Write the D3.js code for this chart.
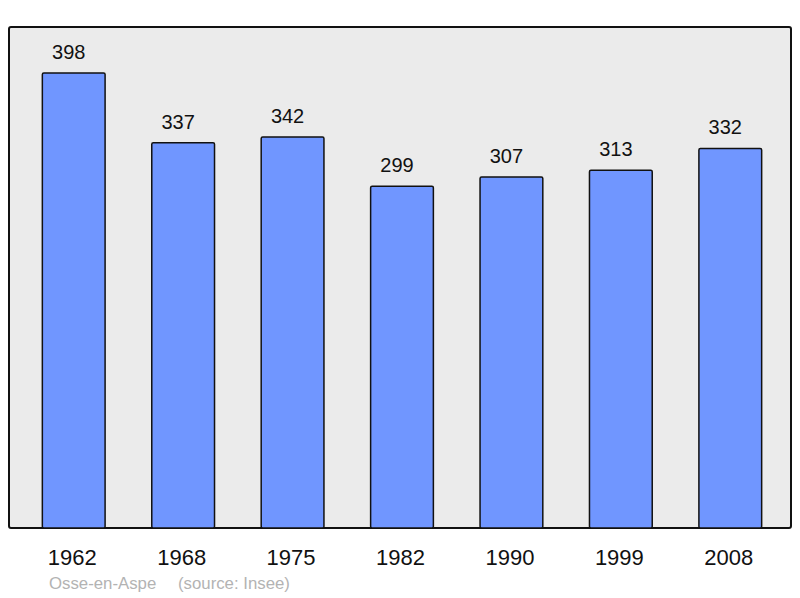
<!DOCTYPE html>
<html><head><meta charset="utf-8">
<script src="https://cdn.jsdelivr.net/npm/d3@7"></script>
<style>body{margin:0;background:#fff}svg{display:block}</style>
</head><body>
<script>
const years = ["1962","1968","1975","1982","1990","1999","2008"];
const population = [398,337,342,299,307,313,332];
const communeLabel = "Osse-en-Aspe";
const sourceLabel = "(source: Insee)";

const W = 800, H = 598;
const svg = d3.select("body").append("svg").attr("width", W).attr("height", H);
const font = "'Liberation Sans', Arial, sans-serif";

const panel = {x: 9, y: 27, w: 782, h: 501};
svg.append("rect").attr("x", panel.x).attr("y", panel.y).attr("width", panel.w).attr("height", panel.h)
  .attr("rx", 2).attr("fill", "#ebebeb").attr("stroke", "#111").attr("stroke-width", 2);

const x = d3.scaleBand().domain(years).range([19, 785]).paddingInner(0.4265).paddingOuter(0.2133);
const y = d3.scaleLinear().domain([0, 438.2]).range([528, 27]);

svg.selectAll("rect.bar").data(population).enter().append("rect").attr("class","bar")
  .attr("x", (d,i) => x(years[i]))
  .attr("y", d => y(d))
  .attr("width", x.bandwidth())
  .attr("height", d => y(0) - y(d))
  .attr("rx", 1.5)
  .attr("fill", "#7096ff").attr("stroke", "#111").attr("stroke-width", 1.5);

svg.selectAll("text.val").data(population).enter().append("text").attr("class","val")
  .attr("x", (d,i) => x(years[i]) + x.bandwidth()/2 - 5)
  .attr("y", d => y(d) - 14)
  .attr("text-anchor","middle").attr("font-family", font).attr("font-size", 20).attr("fill","#111")
  .text(d => d);

const xAxis = svg.append("g").attr("transform", `translate(-1.5,${528})`)
  .call(d3.axisBottom(x).tickSize(0).tickPadding(0));
xAxis.select(".domain").remove();
xAxis.selectAll("text").attr("dy", null).attr("y", 36.5).attr("font-family", font).attr("font-size", 22).attr("fill", "#111");

svg.append("text").attr("x", 49).attr("y", 589).attr("font-family", font).attr("font-size", 16.8)
  .attr("fill", "#b3b3b3").text(communeLabel);
svg.append("text").attr("x", 178).attr("y", 589).attr("font-family", font).attr("font-size", 16.8)
  .attr("fill", "#b3b3b3").text(sourceLabel);
</script>
</body></html>
